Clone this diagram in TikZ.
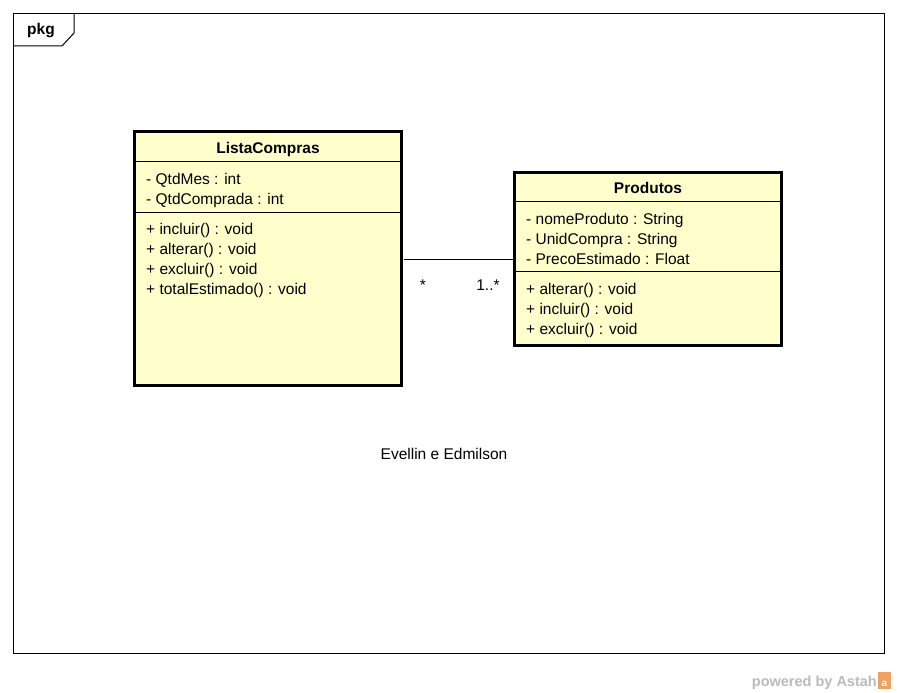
\documentclass[tikz,border=0pt]{standalone}
\usepackage{fontspec}
\setmainfont{Liberation Sans}
\definecolor{classfill}{HTML}{FFFFCC}
\definecolor{astahgray}{HTML}{BBBBBB}
\definecolor{astahorange}{HTML}{F0A060}
\begin{document}
\begin{tikzpicture}[x=1pt,y=-1pt,
  classbox/.style={draw=black, line width=3pt, fill=classfill, rectangle, inner sep=0pt, outer sep=0pt, anchor=north west},
  sepline/.style={draw=black, line width=1pt},
  member/.style={anchor=base west, inner sep=0pt, font=\fontsize{15.5}{18}\selectfont},
  ctitle/.style={anchor=base, inner sep=0pt, font=\fontsize{15.5}{18}\selectfont\bfseries},
  mult/.style={anchor=base, inner sep=0pt, font=\fontsize{15.5}{18}\selectfont},
  frameline/.style={draw=black, line width=1pt}
]
\useasboundingbox (0,0) rectangle (897,693);
\fill[white] (0,0) rectangle (897,693);
% package frame
\draw[frameline] (13.5,13.5) rectangle (884.5,653.5);
\draw[frameline] (13.5,46) -- (62,46) -- (74,33) -- (74,13.5);
\node[anchor=base, inner sep=0pt, font=\fontsize{15.5}{18}\selectfont\bfseries] (pkg) at (41,35) {pkg};
% ListaCompras
\node[classbox, minimum width=267pt, minimum height=254pt] (lc) at (134.5,131.5) {};
\draw[sepline] (lc.north west |- 0,161.5) -- (lc.north east |- 0,161.5);
\draw[sepline] (lc.north west |- 0,212) -- (lc.north east |- 0,212);
\node[ctitle] (lct) at (268,153) {ListaCompras};
\node[member] (lca1) at (146,184) {- QtdMes : int};
\node[member] (lca2) at (146,204) {- QtdComprada : int};
\node[member] (lcm1) at (146,234) {+ incluir() : void};
\node[member] (lcm2) at (146,254) {+ alterar() : void};
\node[member] (lcm3) at (146,274) {+ excluir() : void};
\node[member] (lcm4) at (146,294) {+ totalEstimado() : void};
% Produtos
\node[classbox, minimum width=267pt, minimum height=173pt] (pr) at (514.5,172.5) {};
\draw[sepline] (pr.north west |- 0,201) -- (pr.north east |- 0,201);
\draw[sepline] (pr.north west |- 0,271.5) -- (pr.north east |- 0,271.5);
\node[ctitle] (prt) at (648,193) {Produtos};
\node[member] (pra1) at (526,224) {- nomeProduto : String};
\node[member] (pra2) at (526,244) {- UnidCompra : String};
\node[member] (pra3) at (526,264) {- PrecoEstimado : Float};
\node[member] (prm1) at (526,294) {+ alterar() : void};
\node[member] (prm2) at (526,314) {+ incluir() : void};
\node[member] (prm3) at (526,334) {+ excluir() : void};
% association
\draw[line width=1pt] (pr.west) -- ([xshift=2pt]pr.west -| lc.east);
\node[mult] (m1) at (423,290) {*};
\node[mult] (m2) at (488,290) {1..*};
% caption
\node[mult] (cap) at (444,459) {Evellin e Edmilson};
% watermark
\node[anchor=base east, inner sep=0pt, text=astahgray, font=\fontsize{14.5}{16}\selectfont\bfseries] (pw) at (877,686) {powered by Astah};
\fill[astahorange] (878,672) rectangle (891,689);
\node[anchor=base, inner sep=0pt, text=white, font=\fontsize{10}{12}\selectfont\bfseries] (lg) at (884.5,686) {a};
\end{tikzpicture}
\end{document}
